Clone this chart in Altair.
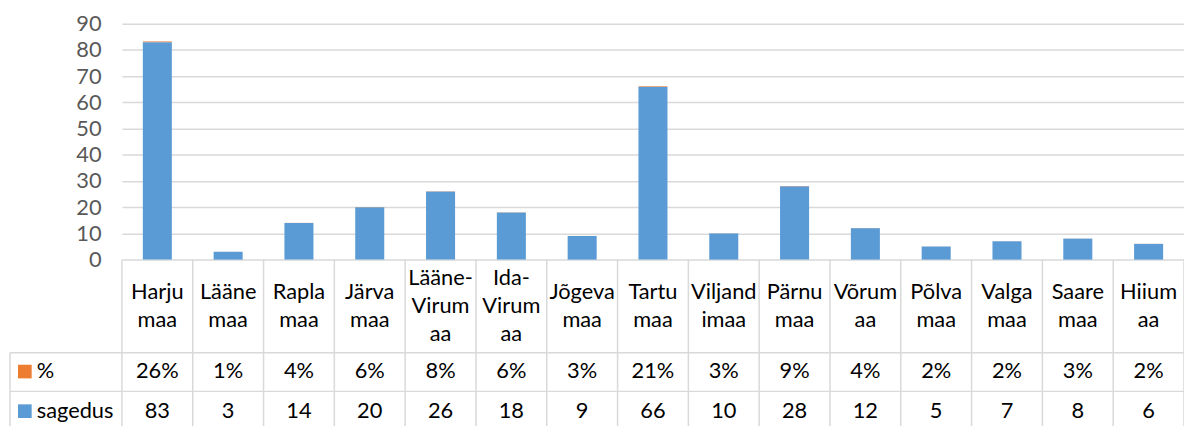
import altair as alt
import pandas as pd

categories = ["Harjumaa", "Läänemaa", "Raplamaa", "Järvamaa", "Lääne-Virumaa",
              "Ida-Virumaa", "Jõgevamaa", "Tartumaa", "Viljandimaa", "Pärnumaa",
              "Võrumaa", "Põlvamaa", "Valgamaa", "Saaremaa", "Hiiumaa"]
cat_labels = ["Harju\nmaa", "Lääne\nmaa", "Rapla\nmaa", "Järva\nmaa", "Lääne-\nVirum\naa",
              "Ida-\nVirum\naa", "Jõgeva\nmaa", "Tartu\nmaa", "Viljand\nimaa", "Pärnu\nmaa",
              "Võrum\naa", "Põlva\nmaa", "Valga\nmaa", "Saare\nmaa", "Hiium\naa"]
sagedus = [83, 3, 14, 20, 26, 18, 9, 66, 10, 28, 12, 5, 7, 8, 6]
protsent = [0.26, 0.01, 0.04, 0.06, 0.08, 0.06, 0.03, 0.21, 0.03, 0.09, 0.04, 0.02, 0.02, 0.03, 0.02]
pct_labels = ["26%", "1%", "4%", "6%", "8%", "6%", "3%", "21%", "3%", "9%", "4%", "2%", "2%", "3%", "2%"]
series = ["%", "sagedus"]
series_colors = ["#ED7D31", "#5B9BD5"]
y_ticks = [0, 10, 20, 30, 40, 50, 60, 70, 80, 90]

FONT = "Lato"
FS = 22
GRID = "#D9D9D9"
W, H = 1072, 238

rows = []
for i, c in enumerate(categories):
    rows.append({"cat": c, "series": "sagedus", "value": sagedus[i], "ord": 0})
    rows.append({"cat": c, "series": "%", "value": protsent[i], "ord": 1})
bars_df = pd.DataFrame(rows)

line_rows = []
for c, lab in zip(categories, cat_labels):
    parts = lab.split("\n")
    n = len(parts)
    for j, p in enumerate(parts):
        line_rows.append({"cat": c, "text": p, "pos": j - (n - 1) / 2})
lines_df = pd.DataFrame(line_rows)

table_df = pd.DataFrame({
    "cat": categories,
    "pct": pct_labels,
    "n": [str(v) for v in sagedus],
})

border_df = pd.DataFrame({"idx": list(range(len(categories) + 1))})
legend_df = pd.DataFrame({"series": series, "row": [0, 1]})

xscale = alt.Scale(domain=categories, paddingInner=0.59, paddingOuter=0.295)
color_scale = alt.Scale(domain=series, range=series_colors)

bars = alt.Chart(bars_df).mark_bar().encode(
    x=alt.X("cat:N", scale=xscale, axis=None, sort=categories),
    y=alt.Y("value:Q", stack="zero",
            scale=alt.Scale(domain=[0, 90], nice=False),
            axis=alt.Axis(values=y_ticks, title=None, grid=True, gridColor=GRID,
                          gridWidth=1.5, domain=False, ticks=False,
                          labelFont=FONT, labelFontSize=FS, labelColor="#595959",
                          labelPadding=21)),
    color=alt.Color("series:N", scale=color_scale, legend=None),
    order=alt.Order("ord:Q"),
)

cat_text = alt.Chart(lines_df).mark_text(
    font=FONT, fontSize=FS, color="#000000", baseline="middle", align="center"
).encode(
    x=alt.X("cat:N", scale=xscale, axis=None, sort=categories),
    y=alt.Y("pos:Q", scale=alt.Scale(domain=[-1, 1], range=[285 - 28.5, 285 + 28.5]), axis=None),
    text="text:N",
)

pct_text = alt.Chart(table_df).mark_text(
    font=FONT, fontSize=FS, color="#000000", baseline="middle", align="center"
).encode(
    x=alt.X("cat:N", scale=xscale, axis=None, sort=categories),
    y=alt.value(351),
    text="pct:N",
)

n_text = alt.Chart(table_df).mark_text(
    font=FONT, fontSize=FS, color="#000000", baseline="middle", align="center"
).encode(
    x=alt.X("cat:N", scale=xscale, axis=None, sort=categories),
    y=alt.value(391),
    text="n:N",
)

vborders = alt.Chart(border_df).mark_rule(color=GRID, strokeWidth=1.5).encode(
    x=alt.X("idx:Q", scale=alt.Scale(domain=[0, len(categories)], nice=False, zero=False), axis=None),
    y=alt.value(H),
    y2=alt.value(420),
)

hlines = alt.Chart(pd.DataFrame({"yy": [332, 371]})).mark_rule(color=GRID, strokeWidth=1.5).encode(
    x=alt.value(-113),
    x2=alt.value(W),
    y=alt.Y("yy:Q", scale=None),
)

left_border = alt.Chart(pd.DataFrame({"a": [0]})).mark_rule(color=GRID, strokeWidth=1.5).encode(
    x=alt.value(-113),
    y=alt.value(332),
    y2=alt.value(420),
)

legend_sq = alt.Chart(legend_df).mark_square(size=190, opacity=1, filled=True).encode(
    x=alt.value(-98),
    y=alt.Y("row:Q", scale=alt.Scale(domain=[0, 1], range=[351, 391]), axis=None),
    color=alt.Color("series:N", scale=color_scale, legend=None),
)

legend_txt = alt.Chart(legend_df).mark_text(
    font=FONT, fontSize=FS, color="#000000", align="left", baseline="middle"
).encode(
    x=alt.value(-86),
    y=alt.Y("row:Q", scale=alt.Scale(domain=[0, 1], range=[351, 391]), axis=None),
    text="series:N",
)

chart = alt.layer(
    bars, vborders, hlines, left_border, cat_text, pct_text, n_text, legend_sq, legend_txt
).resolve_scale(x="independent", y="independent").properties(
    width=W, height=H,
    autosize=alt.AutoSizeParams(type="none"),
    padding={"left": 115, "top": 14, "right": 0, "bottom": 166},
).configure_view(stroke=None)

chart.save("out.html", embed_options={"renderer": "svg", "actions": False})
